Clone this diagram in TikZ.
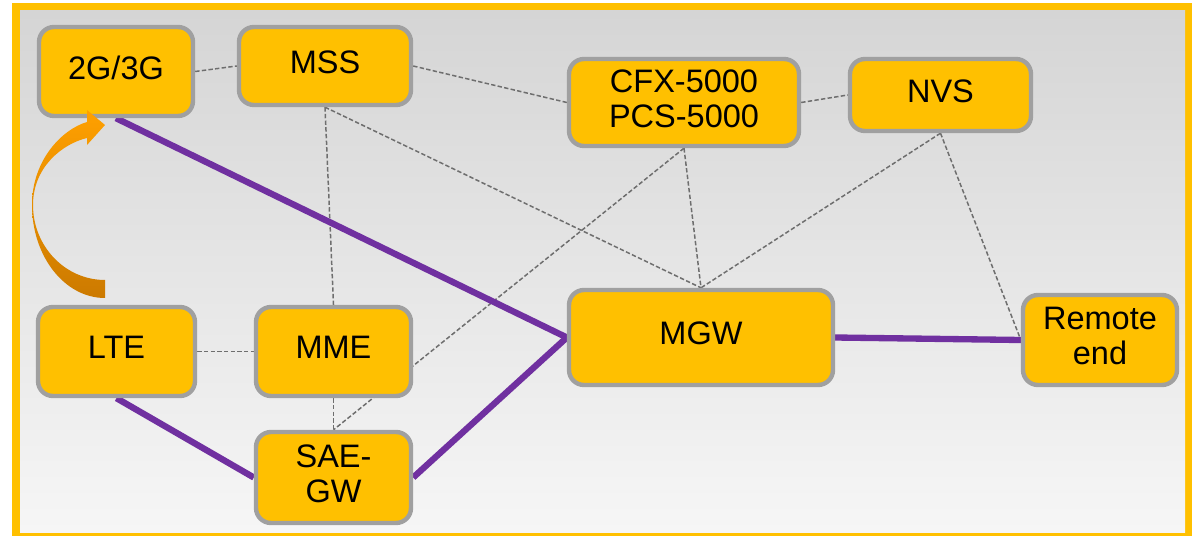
\documentclass[tikz,border=0pt]{standalone}
\usepackage{fontspec}
\setmainfont{Liberation Sans}
\definecolor{boxfill}{RGB}{255,192,0}
\definecolor{boxline}{RGB}{160,160,160}
\definecolor{bearer}{RGB}{112,48,160}
\definecolor{signal}{RGB}{110,110,110}
\definecolor{arrowtop}{RGB}{255,160,0}
\definecolor{arrowbot}{RGB}{204,122,0}
\definecolor{bgtop}{RGB}{213,213,213}
\definecolor{bgbot}{RGB}{246,246,246}
\pgfdeclarelayer{bg}
\pgfdeclarelayer{links}
\pgfsetlayers{bg,links,main}
\tikzset{box/.style={draw=boxline,fill=boxfill,line width=2.5pt,rounded corners=8.5pt,
 align=center,inner sep=0pt,text depth=4.5pt,font=\fontsize{18.5}{20}\selectfont},
 sig/.style={signal,line width=0.85pt,dash pattern=on 2.5pt off 1.3pt},
 bear/.style={bearer,line width=3.6pt}}

\begin{document}
\begin{tikzpicture}[x=0.02cm,y=-0.02cm]
\useasboundingbox (0,0) rectangle (1192,536);
\begin{pgfonlayer}{bg}
\fill[boxfill] (12,3) rectangle (1192,536);
\shade[top color=bgtop,bottom color=bgbot] (20,11) rectangle (1185,532);
\end{pgfonlayer}
\node[box,minimum width=3.08cm,minimum height=1.78cm] (g23) at (116,71.5) {2G/3G};
\node[box,minimum width=3.44cm,minimum height=1.56cm] (mss) at (325,66) {MSS};
\node[box,minimum width=4.6cm,minimum height=1.74cm] (cfx) at (684,102.5) {CFX-5000\\PCS-5000};
\node[box,minimum width=3.62cm,minimum height=1.44cm] (nvs) at (940.5,95) {NVS};
\node[box,minimum width=5.28cm,minimum height=1.9cm] (mgw) at (701,337.5) {MGW};
\node[box,minimum width=3.08cm,minimum height=1.8cm] (rem) at (1100,340) {Remote\\end};
\node[box,minimum width=3.14cm,minimum height=1.78cm] (lte) at (116.5,351.5) {LTE};
\node[box,minimum width=3.1cm,minimum height=1.78cm] (mme) at (333.5,351.5) {MME};
\node[box,minimum width=3.1cm,minimum height=1.82cm] (sae) at (333.5,477.5) {SAE-\\GW};
\begin{pgfonlayer}{links}
\draw[sig] (g23.east) -- (mss.west);
\draw[sig] (mss.east) -- (cfx.west);
\draw[sig] (cfx.east) -- (nvs.west);
\draw[sig] (mss.south) -- (mme.north);
\draw[sig] (mss.south) -- (mgw.north);
\draw[sig] (cfx.south) -- (mgw.north);
\draw[sig] (cfx.south) -- (sae.north);
\draw[sig] (nvs.south) -- (mgw.north);
\draw[sig] (nvs.south) -- (rem.west);
\draw[sig] (lte.east) -- (mme.west);
\draw[sig] (mme.south) -- (sae.north);
\draw[bear] (g23.south) -- (mgw.west);
\draw[bear] (lte.south) -- (sae.west);
\draw[bear] (sae.east) -- (mgw.west);
\draw[bear] (mgw.east) -- (rem.west);
\end{pgfonlayer}
\shade[top color=arrowtop,bottom color=arrowbot] (87,122) -- (87,110) -- (105,125) -- (87,145) -- (87,138)
 .. controls (62.5,143.8) and (33,167) .. (33,205) .. controls (33,246.4) and (65.2,280) .. (105,280)
 -- (105,298) .. controls (64.7,298) and (32,256.4) .. (32,205) .. controls (32,160) and (62.2,129.3) .. (87,122) -- cycle;
\end{tikzpicture}
\end{document}
